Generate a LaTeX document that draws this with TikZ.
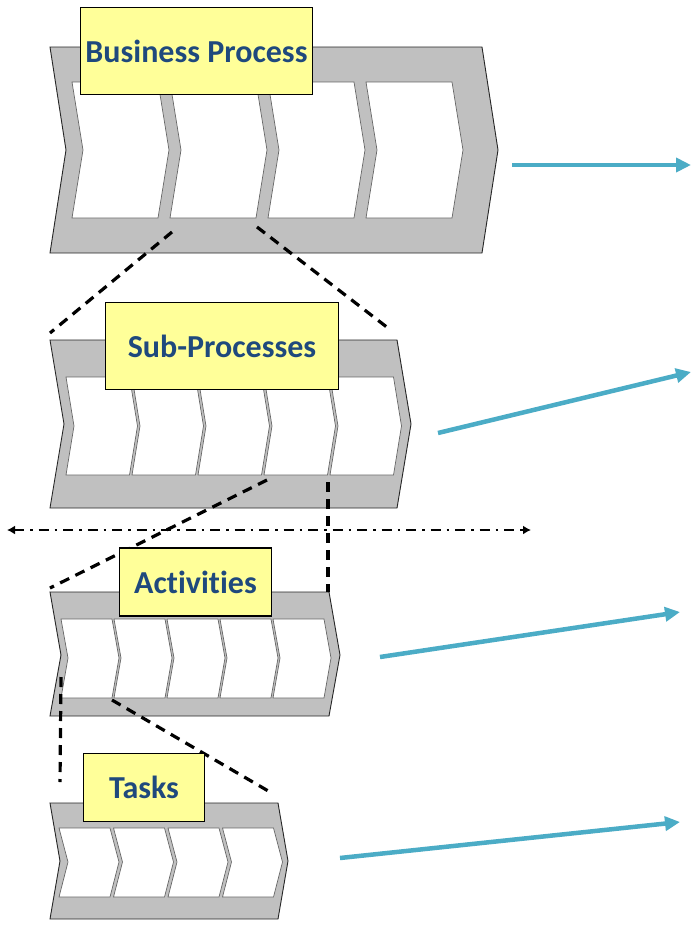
\documentclass[tikz,border=0pt]{standalone}
\usepackage{fontspec}
\setsansfont{Carlito}[Ligatures={NoCommon,NoContextual}]
\usetikzlibrary{arrows.meta}
\definecolor{bargray}{HTML}{C0C0C0}
\definecolor{labyellow}{HTML}{FFFF99}
\definecolor{labblue}{HTML}{1F497D}
\definecolor{arrblue}{HTML}{4BACC6}
% chevron: left x, top y, bottom y, width, depth, mid y
\newcommand\mychev[6]{%
  \filldraw[fill=white, draw=black!60, line width=0.7pt]
    (#1,#2) -- ({#1+#4},#2) -- ({#1+#4+#5},#6) -- ({#1+#4},#3) -- (#1,#3) -- ({#1+#5},#6) -- cycle;}
% outer band: left x, right x, top y, bottom y, mid y, depth
\newcommand\myouter[6]{%
  \filldraw[fill=bargray, draw=black!85, line width=0.9pt]
    (#1,#3) -- (#2,#3) -- ({#2+#6},#5) -- (#2,#4) -- (#1,#4) -- ({#1+#6},#5) -- cycle;}
\tikzset{
  lab/.style={draw=black, line width=1.8pt, fill=labyellow, text=labblue,
    font=\sffamily\bfseries\fontsize{32}{36}\selectfont, inner sep=0pt},
  zoomline/.style={black, line width=3.2pt, dash pattern=on 10pt off 7pt},
  splitline/.style={black, line width=2.3pt, dash pattern=on 10pt off 6pt on 2.5pt off 6pt,
    {Latex[length=8pt,width=9pt]}-{Latex[length=8pt,width=9pt]}},
  barrow/.style={arrblue, line width=4.5pt, -{Triangle[length=15pt,width=14pt]}}
}
\begin{document}
\begin{tikzpicture}[x=1pt,y=-1pt]
\useasboundingbox (0,0) rectangle (692,938);
\fill[white] (0,0) rectangle (692,938);

% Business process
\myouter{50}{482}{47}{253}{150}{16}
\foreach \i in {0,...,3}{\pgfmathsetmacro\xx{72+98*\i}\mychev{\xx}{82}{218}{86}{11}{150}}
% Sub-processes
\myouter{50}{397}{340}{508}{424}{14}
\foreach \i in {0,...,4}{\pgfmathsetmacro\xx{66+66*\i}\mychev{\xx}{377}{475}{63.5}{8}{426}}
% Activities
\myouter{50}{329}{592}{716}{655}{11}
\foreach \i in {0,...,4}{\pgfmathsetmacro\xx{61+53*\i}\mychev{\xx}{619}{698}{51}{7}{658}}
% Tasks
\myouter{50}{278}{803}{919}{861}{10}
\foreach \i in {0,...,3}{\pgfmathsetmacro\xx{59+54.5*\i}\mychev{\xx}{828}{897}{51}{9}{862}}

% connector end points
\coordinate (bpA) at (172,232);
\coordinate (bpB) at (257,227);
\coordinate (spTL) at (50,333);
\coordinate (spTR) at (388,328);
\coordinate (spA) at (267,480);
\coordinate (spB) at (328,482);
\coordinate (acTL) at (50,588);
\coordinate (acTR) at (328,592);
\coordinate (acA) at (61,677);
\coordinate (acB) at (112,700);
\coordinate (tkTL) at (60,782);
\coordinate (tkTR) at (270,792);
\coordinate (hl) at (7,530);
\coordinate (hr) at (531,530);

% zoom lines
\draw[zoomline] (bpA) -- (spTL);
\draw[zoomline] (bpB) -- (spTR);
\draw[zoomline] (spA) -- (acTL);
\draw[zoomline] (spB) -- (acTR);
\draw[zoomline] (acA) -- (tkTL);
\draw[zoomline] (acB) -- (tkTR);

% split line
\draw[splitline] (hl) -- (hr);

% labels
\node[lab, minimum width=232pt, minimum height=87pt] (bp) at (196.5,51) {Business Process};
\node[lab, minimum width=233pt, minimum height=87pt] (sp) at (222,346) {Sub-Processes};
\node[lab, minimum width=152pt, minimum height=68pt] (ac) at (195.5,582) {Activities};
\node[lab, minimum width=121pt, minimum height=68pt] (tk) at (144,787.5) {Tasks};

% blue arrows
\coordinate (a1s) at (512,165);
\coordinate (a1e) at (691,165);
\coordinate (a2s) at (438,433);
\coordinate (a2e) at (691,372);
\coordinate (a3s) at (380,657);
\coordinate (a3e) at (680,612);
\coordinate (a4s) at (340,858);
\coordinate (a4e) at (680,822);
\draw[barrow] (a1s) -- (a1e);
\draw[barrow] (a2s) -- (a2e);
\draw[barrow] (a3s) -- (a3e);
\draw[barrow] (a4s) -- (a4e);
\end{tikzpicture}
\end{document}
